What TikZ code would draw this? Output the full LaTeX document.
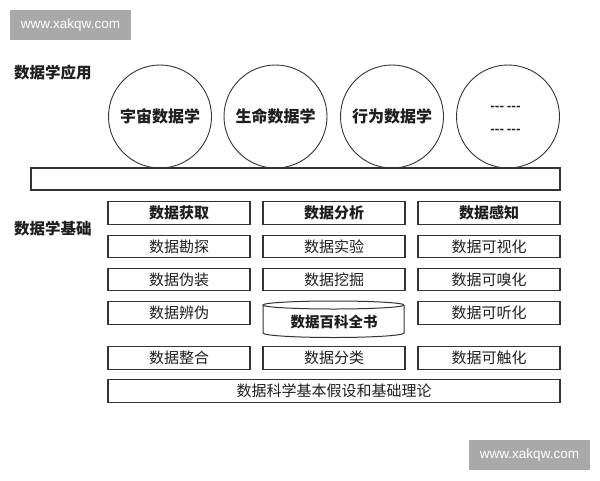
\documentclass[tikz,border=0pt]{standalone}
\usepackage{fontspec}
\newfontfamily\cjk{Noto Sans CJK SC}
\newfontfamily\wmfont{Liberation Sans}
\definecolor{linec}{HTML}{333333}
\definecolor{textc}{HTML}{1E1E1E}
\definecolor{wmgray}{HTML}{A9A9A9}
\begin{document}
\begin{tikzpicture}[x=1pt,y=-1pt,
  lab/.style={font=\cjk\bfseries\fontsize{15.5}{18}\selectfont, text=textc, anchor=west, inner sep=0pt},
  appcircle/.style={circle, draw=linec, line width=0.9pt, minimum size=103pt, inner sep=0pt, font=\cjk\bfseries\fontsize{16}{19}\selectfont, text=textc},
  dashtext/.style={inner sep=0pt, font=\cjk\bfseries\fontsize{12}{14}\selectfont, text=textc},
  cell/.style={draw=linec, line width=1.1pt, minimum width=142pt, minimum height=22.5pt, inner sep=0pt, font=\cjk\fontsize{15}{18}\selectfont, text=textc},
  headcell/.style={cell, font=\cjk\bfseries\fontsize{15}{18}\selectfont},
  wm/.style={fill=wmgray, minimum width=121pt, minimum height=30pt, inner sep=0pt, text=white, font=\wmfont\fontsize{13.5}{16}\selectfont}
]
\useasboundingbox (0,0) rectangle (600,480);
\fill[white] (0,0) rectangle (600,480);

% watermarks
\node[wm] (wm1) at (70.5,25) {www.xakqw.com};
\node[wm] (wm2) at (529.5,455) {www.xakqw.com};

% labels
\node[lab] (applab) at (14,73) {数据学应用};
\node[lab] (baselab) at (14,229) {数据学基础};

% bar
\node[draw=linec, line width=1.1pt, minimum width=529pt, minimum height=22pt, inner sep=0pt] (bar) at (295.5,179) {};

% circles
\node[appcircle] (c1) at (160,116.5) {宇宙数据学};
\node[appcircle] (c2) at (275.5,116.5) {生命数据学};
\node[appcircle] (c3) at (392,116.5) {行为数据学};
\node[appcircle] (c4) at (508,116.5) {};
\node[dashtext] (c4a) at (505.5,108) {{-}{-}{-} {-}{-}{-}};
\node[dashtext] (c4b) at (505.5,131) {{-}{-}{-} {-}{-}{-}};

% column 1
\node[headcell] (a1) at (179,213) {数据获取};
\node[cell] (a2) at (179,246.5) {数据勘探};
\node[cell] (a3) at (179,279.5) {数据伪装};
\node[cell] (a4) at (179,313) {数据辨伪};
\node[cell] (a5) at (179,358) {数据整合};

% column 2
\node[headcell] (b1) at (334,213) {数据分析};
\node[cell] (b2) at (334,246.5) {数据实验};
\node[cell] (b3) at (334,279.5) {数据挖掘};
\node[inner sep=0pt, font=\cjk\bfseries\fontsize{14.5}{17}\selectfont, text=textc] (b4) at (334,322) {数据百科全书};
\draw[linec, line width=1pt] (404,305) arc[start angle=0, end angle=360, x radius=70.5pt, y radius=4pt];
\draw[linec, line width=1pt] (263,305) -- (263,333) arc[start angle=180, end angle=360, x radius=70.5pt, y radius=4.5pt] -- (404,305);
\node[cell] (b5) at (334,358) {数据分类};

% column 3
\node[headcell] (d1) at (489,213) {数据感知};
\node[cell] (d2) at (489,246.5) {数据可视化};
\node[cell] (d3) at (489,279.5) {数据可嗅化};
\node[cell] (d4) at (489,313) {数据可听化};
\node[cell] (d5) at (489,358) {数据可触化};

% bottom
\node[cell, minimum width=452pt] (bottom) at (334,391) {数据科学基本假设和基础理论};
\end{tikzpicture}
\end{document}
